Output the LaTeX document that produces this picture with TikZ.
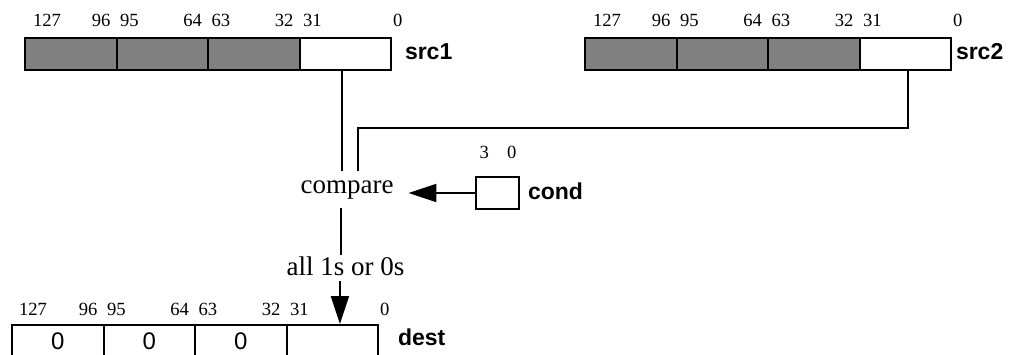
\documentclass[tikz,border=0pt]{standalone}
\usepackage{fontspec}
\setmainfont{Liberation Serif}
\setsansfont{Liberation Sans}
\usetikzlibrary{arrows.meta}

\begin{document}
\begin{tikzpicture}[x=0.5pt, y=-0.5pt, line width=1pt,
    cell/.style ={rectangle, draw, line width=1pt, minimum width=45.75pt,
                  minimum height=16pt, inner sep=0pt, fill=white,
                  font=\sffamily\fontsize{12}{14}\selectfont},
    used/.style ={cell, fill=gray},
    bits/.style ={inner sep=0pt, font=\fontsize{9.3}{11}\selectfont},
    regname/.style ={anchor=base west, inner sep=0pt,
                  font=\sffamily\bfseries\fontsize{11.5}{13}\selectfont},
    op/.style ={anchor=base, font=\fontsize{13.5}{16}\selectfont},
    arr/.style ={-{Triangle[length=14pt,width=9pt]}}]
   \useasboundingbox (0,0) rectangle (1011,354);

   % src1
   \node[used] (s1a) at (70.75,54)  {};
   \node[used] (s1b) at (162.25,54) {};
   \node[used] (s1c) at (253.75,54) {};
   \node[cell] (s1d) at (345.25,54) {};
   \node[regname] (s1) at (404,59) {src1};
   \node[bits, anchor=base west] (s1n127) at (32,26)    {127};
   \node[bits, anchor=base east] (s1n96)  at (111.5,26) {96};
   \node[bits, anchor=base west] (s1n95)  at (119,26)   {95};
   \node[bits, anchor=base east] (s1n64)  at (203,26)   {64};
   \node[bits, anchor=base west] (s1n63)  at (210.5,26) {63};
   \node[bits, anchor=base east] (s1n32)  at (294.5,26) {32};
   \node[bits, anchor=base west] (s1n31)  at (302,26)   {31};
   \node[bits, anchor=base west] (s1n0)   at (392,26)   {0};

   % src2
   \node[used] (s2a) at (630.75,54) {};
   \node[used] (s2b) at (722.25,54) {};
   \node[used] (s2c) at (813.75,54) {};
   \node[cell] (s2d) at (905.25,54) {};
   \node[regname] (s2) at (955,59) {src2};
   \node[bits, anchor=base west] (s2n127) at (592,26)   {127};
   \node[bits, anchor=base east] (s2n96)  at (671.5,26) {96};
   \node[bits, anchor=base west] (s2n95)  at (679,26)   {95};
   \node[bits, anchor=base east] (s2n64)  at (763,26)   {64};
   \node[bits, anchor=base west] (s2n63)  at (770.5,26) {63};
   \node[bits, anchor=base east] (s2n32)  at (854.5,26) {32};
   \node[bits, anchor=base west] (s2n31)  at (862,26)   {31};
   \node[bits, anchor=base west] (s2n0)   at (952,26)   {0};

   % cond
   \node[cell, minimum width=21.5pt] (cnd) at (497.5,193) {};
   \node[regname] (cn) at (527,199) {cond};
   \node[bits, anchor=base west] (cn3) at (478.5,158) {3};
   \node[bits, anchor=base west] (cn0) at (506,158)   {0};

   % compare
   \node[op, inner xsep=7pt, inner ysep=3.9pt] (cmp) at (347,193) {compare};
   \node[op, inner sep=0pt] (all) at (345.5,275) {all 1s or 0s};

   % dest
   \node[cell] (da) at (57.75,341)  {0};
   \node[cell] (db) at (149.25,341) {0};
   \node[cell] (dc) at (240.75,341) {0};
   \node[cell] (dd) at (332.25,341) {};
   \node[regname] (d) at (397,345) {dest};
   \node[bits, anchor=base west] (dn127) at (18,315)    {127};
   \node[bits, anchor=base east] (dn96)  at (98.5,315)  {96};
   \node[bits, anchor=base west] (dn95)  at (106,315)   {95};
   \node[bits, anchor=base east] (dn64)  at (190,315)   {64};
   \node[bits, anchor=base west] (dn63)  at (197.5,315) {63};
   \node[bits, anchor=base east] (dn32)  at (281.5,315) {32};
   \node[bits, anchor=base west] (dn31)  at (289,315)   {31};
   \node[bits, anchor=base west] (dn0)   at (379,315)   {0};

   \coordinate (bend) at (358,128);

   \draw ([xshift=-1.6pt]s1d.south) to ([xshift=-1.6pt]s1d.south |- cmp.north);
   \draw ([xshift=1.4pt]s2d.south) |- (bend) to (bend |- cmp.north);
   \draw[arr] (cnd.west) to (cnd.west -| cmp.east);
   \draw ([xshift=-3pt]cmp.south) to ([xshift=-3pt]cmp.south |- all.north);
   \draw[arr] ([xshift=-2.8pt,yshift=-2.5pt]all.south) to ([xshift=-2.8pt]all.south |- dd.north);
 \end{tikzpicture}
\end{document}
